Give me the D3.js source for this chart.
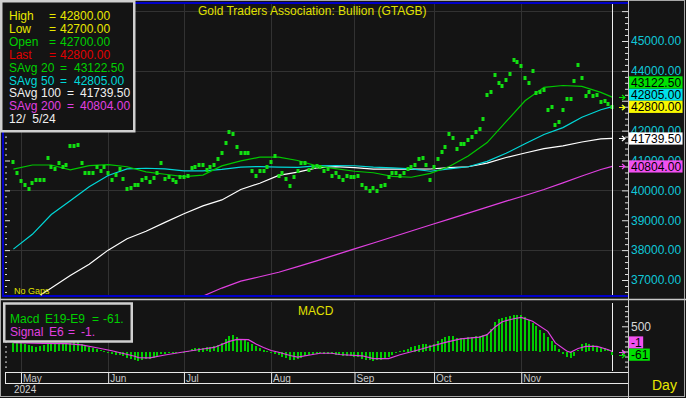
<!DOCTYPE html>
<html><head><meta charset="utf-8">
<script src="https://cdn.jsdelivr.net/npm/d3@7"></script>
<style>
html,body{margin:0;padding:0;background:#141414;overflow:hidden}
svg{display:block;font-family:"Liberation Sans",Arial,sans-serif}
</style>
</head><body>
<svg id="c" width="686" height="398"></svg>
<script>
// ---------------- DATA ----------------
// daily closes, trading days 29 Apr 2024 (index 0) .. 5 Dec 2024 (index 158)
const closes = [
40965,40595,40310,40185,40060,40260,40360,40360,40360,41100,
40775,40710,40910,40780,40840,41500,41480,41520,40910,40595,
40595,40595,40780,40650,40780,40595,40360,40510,40710,40395,
40060,40095,40175,40175,40360,40420,40285,40420,40580,40910,
40395,40460,40360,40295,40460,40460,40495,40765,40795,40865,
40865,40685,40795,40865,41065,41265,41600,41965,41900,41465,
41265,41265,41265,40655,40495,40655,40655,40785,40955,41165,
40495,40565,40395,40160,40460,40665,40910,40910,40685,40795,
40820,40780,40655,40710,40495,40565,40460,40360,40495,40460,
40460,40495,40195,40095,39985,40095,39995,40160,40195,40460,
40595,40565,40495,40565,40710,40795,40865,41065,41100,40865,
40360,40795,41065,41300,41465,41900,41765,41390,41565,41565,
41700,41800,41965,42065,42400,43205,43295,43875,43605,43505,
43705,43905,44375,44310,44175,43775,43605,44005,43270,43305,
43370,42705,42805,42200,42300,42705,43070,43070,43675,44205,
43775,43170,43305,43170,43205,42970,43005,42905,42800
];
// moving averages read at sampled trading-day indices
const smaDays = [0,5,10,15,20,25,30,35,40,45,50,55,60,65,70,75,80,85,90,95,100,105,110,115,120,125,130,135,140,145,150,155,158];
const sma20  = [40710,40850,40850,40690,40830,40860,40790,40620,40540,40462,40510,40820,40990,41110,41110,41000,40820,40730,40640,40590,40470,40440,40570,40800,41150,41600,42300,43000,43450,43510,43480,43280,43122.5];
const sma50  = [38034,38530,39190,39650,40120,40500,40720,40740,40720,40650,40650,40700,40780,40797,40780,40770,40820,40830,40825,40775,40750,40720,40640,40720,40790,40970,41240,41560,41870,42100,42450,42700,42805];
const sma100 = [35920,36330,36730,37150,37530,38000,38380,38630,38930,39220,39480,39680,40030,40240,40500,40610,40750,40797,40760,40710,40710,40710,40715,40764,40790,40910,41100,41250,41400,41490,41620,41725,41739.5];
const sma200Days = [45,50,55,60,65,70,75,80,85,90,95,100,105,110,115,120,125,130,135,140,145,150,155,158];
const sma200 = [36260,36460,36730,36960,37110,37260,37450,37640,37840,38040,38240,38440,38640,38840,39040,39240,39440,39640,39830,40030,40250,40480,40700,40804];
// MACD E19-E9 histogram (one per day) and signal E6 (sampled)
const macd = [
170,175,170,155,130,110,95,100,120,150,160,155,160,165,160,175,185,180,150,120,95,70,50,25,5,
-20,-40,-55,-60,-80,-110,-140,-160,-170,-160,-140,-130,-110,-70,-40,-30,-20,-15,-15,-10,
0,10,40,60,70,75,80,90,100,130,170,240,300,320,290,250,220,190,140,100,60,30,10,-10,
-30,-60,-90,-120,-150,-160,-140,-110,-80,-60,-40,-30,-25,-30,-35,-40,-50,-60,-70,-80,-85,-90,
-100,-130,-150,-165,-170,-165,-150,-130,-90,-50,-20,10,30,50,80,110,130,150,140,120,
150,200,250,290,310,300,270,260,270,280,290,300,310,330,340,450,590,640,670,680,
700,720,730,720,680,620,560,500,430,360,280,200,120,50,
-40,-90,-110,-70,20,140,170,140,120,110,90,60,20,-61
];
const signalDays = [0,8,14,18,22,26,29,32,33,36,40,44,47,50,53,57,59,62,64,66,68,70,73,75,79,81,84,86,92,95,99,102,107,110,114,118,123,125,127,129,132,134,137,141,143,146,147,149,151,154,157,158];
const signal =     [175,160,155,130,75,15,-40,-95,-120,-125,-70,-20,15,50,80,200,240,235,150,80,20,-15,-80,-110,-60,-35,-35,-60,-85,-140,-140,-65,35,100,180,250,285,335,480,590,650,677,600,400,170,10,-15,60,100,100,35,-1];
const monthIdx = [2,25,45,68,90,111,134];
const monthLabels = ["May","Jun","Jul","Aug","Sep","Oct","Nov"];
const yearLabel = "2024";
const priceLabels = [37000,38000,39000,40000,41000,42000,44000,45000];
const priceGrid = [38000,40000,42000,44000,46000];
const legendLabels = ["High","Low","Open","Last","SAvg 20","SAvg 50","SAvg 100","SAvg 200"];
const legendValues = [42800,42700,42700,42800,43122.5,42805,41739.5,40804];
const legendDate = "12/  5/24";
const title = "Gold Traders Association: Bullion (GTAGB)";
const macdValue = -61, signalValue = -1;

// ---------------- DRAW ----------------
const svg = d3.select("#c");
const W = 686, H = 398;
const C = {bg:"#141414", grid:"#323232", dot:"#12e012", g20:"#00c800", c50:"#00d8d8",
  w100:"#ffffff", m200:"#e040e0", yel:"#e8e800", red:"#e00000", frame:"#c8c8c8", blue:"#0000c8",
  axis:"#cfcfcf", tick:"#e0e0e0"};
const P = {l:3, r:628, t:4, b:295};
const M = {t:302, b:372};
const x = d3.scaleLinear().domain([0,158]).range([13.4,612.2]);
const y = d3.scaleLinear().domain([37000,45000]).range([280,41]);
const ym = d3.scaleLinear().domain([0,500]).range([351.5,326.3]);
const f2 = d3.format(".2f");

svg.append("rect").attr("width",W).attr("height",H).attr("fill",C.bg);

const defs = svg.append("defs");
defs.append("clipPath").attr("id","cp").append("rect")
  .attr("x",P.l).attr("y",P.t).attr("width",P.r-P.l).attr("height",P.b-P.t);
defs.append("clipPath").attr("id","cm").append("rect")
  .attr("x",P.l).attr("y",M.t).attr("width",P.r-P.l).attr("height",M.b-M.t);

// grid
const grid = svg.append("g").attr("stroke",C.grid).attr("stroke-width",1);
monthIdx.forEach(i=>{
  const gx = Math.round(x(i))+0.5;
  grid.append("line").attr("x1",gx).attr("x2",gx).attr("y1",P.t).attr("y2",P.b);
  grid.append("line").attr("x1",gx).attr("x2",gx).attr("y1",M.t).attr("y2",M.b);
});
priceGrid.forEach(v=>{
  const gy = Math.round(y(v))+0.5;
  grid.append("line").attr("x1",P.l).attr("x2",P.r).attr("y1",gy).attr("y2",gy);
});

// main panel series
const gm = svg.append("g").attr("clip-path","url(#cp)");
const line = d3.line().x(d=>x(d[0])).y(d=>y(d[1]));
function drawLine(days, vals, col){
  gm.append("path").datum(days.map((d,i)=>[d,vals[i]]))
    .attr("d",line).attr("fill","none").attr("stroke",col).attr("stroke-width",1.2);
}
drawLine(smaDays, sma100, C.w100);
drawLine(sma200Days, sma200, C.m200);
drawLine(smaDays, sma50, C.c50);
drawLine(smaDays, sma20, C.g20);
gm.append("g").selectAll("rect").data(closes).join("rect")
  .attr("x",(d,i)=>Math.round(x(i))-1.5).attr("y",d=>Math.round(y(d))-2)
  .attr("width",3).attr("height",4).attr("fill",C.dot);

// current day line
const cx = Math.round(x(158))+0.5;
svg.append("line").attr("x1",cx).attr("x2",cx).attr("y1",P.t).attr("y2",P.b).attr("stroke","#f0f0f0");
svg.append("line").attr("x1",cx).attr("x2",cx).attr("y1",M.t+1).attr("y2",M.b-1).attr("stroke","#f0f0f0");

// MACD panel
const gmc = svg.append("g").attr("clip-path","url(#cm)");
gmc.append("g").attr("shape-rendering","crispEdges").selectAll("rect").data(macd).join("rect")
  .attr("x",(d,i)=>Math.round(x(i))-1)
  .attr("y",d=>Math.round(Math.min(ym(0),ym(d))))
  .attr("width",2)
  .attr("height",d=>Math.max(1,Math.round(Math.abs(ym(d)-ym(0)))))
  .attr("fill","#00cc00");
gmc.append("path").datum(signalDays.map((d,i)=>[d,signal[i]]))
  .attr("d",d3.line().x(d=>x(d[0])).y(d=>ym(d[1])))
  .attr("fill","none").attr("stroke",C.m200).attr("stroke-width",1.2);

// blue border of main panel
svg.append("path").attr("d",`M${P.r},3 H3 V296 H${P.r}`).attr("fill","none")
  .attr("stroke",C.blue).attr("stroke-width",2);

// frame lines
svg.append("rect").attr("x",0.5).attr("y",0.5).attr("width",W-2).attr("height",H-2)
  .attr("fill","none").attr("stroke","#a8a8a8");
svg.append("line").attr("x1",0).attr("x2",W).attr("y1",299.5).attr("y2",299.5).attr("stroke",C.frame).attr("stroke-width",1.5);
svg.append("line").attr("x1",628.5).attr("x2",628.5).attr("y1",0).attr("y2",H).attr("stroke",C.frame);

// ticks
function ticks(scale, x0, vals, size, dir){
  const ax = (dir>0? d3.axisRight(scale) : d3.axisLeft(scale)).tickValues(vals).tickSize(size).tickFormat("");
  const g = svg.append("g").attr("transform",`translate(${x0},0)`).call(ax);
  g.select(".domain").remove();
  g.selectAll("line").attr("stroke",C.tick);
}
const minorP = d3.range(36600,46200,200).filter(v=>v%1000!==0);
const majorP = d3.range(37000,47000,1000);
ticks(y, 5, minorP, 2, 1); ticks(y, 5, majorP, 5, 1);
ticks(y, 628, minorP, 3, -1); ticks(y, 628, majorP, 6, -1);
const minorM = d3.range(-300,1000,100).filter(v=>v%500!==0);
ticks(ym, 5, minorM.concat([0,500]), 2, 1);
ticks(ym, 628, minorM, 3, -1); ticks(ym, 628, [0,500], 6, -1);

// right price labels
const ra = svg.append("g").attr("transform","translate(628,0)")
  .call(d3.axisRight(y).tickValues(priceLabels).tickSize(0).tickPadding(3).tickFormat(f2));
ra.select(".domain").remove();
ra.selectAll("text").attr("fill","#10c8d8").attr("font-size",12).attr("font-family","Liberation Sans, Arial, sans-serif");

// value tags with stacking
function tags(list, scale){
  const s = list.slice().sort((a,b)=>a.v-b.v);
  let prevTop = Infinity;
  s.forEach(t=>{
    let top = scale(t.v)-6;
    if (top+12.2 > prevTop) top = prevTop-12.2;
    prevTop = top; t.top = top;
  });
  list.forEach(t=>{
    const g = svg.append("g");
    const tx = g.append("text").attr("x",631).attr("y",t.top+10.5).attr("font-size",12)
      .attr("fill","#000").text(t.txt);
    const w = tx.node().getComputedTextLength();
    g.insert("rect","text").attr("x",629).attr("y",t.top).attr("width",w+3.5).attr("height",12.2).attr("fill",t.c);
    const ay = Math.round(scale(t.v))+0.5;
    svg.append("path").attr("d",`M619,${ay} H625 M622,${ay-2.5} L625,${ay} L622,${ay+2.5}`)
      .attr("fill","none").attr("stroke",t.c).attr("stroke-width",1.2);
  });
}
tags([
  {v:legendValues[7], c:"#f050f0", txt:f2(legendValues[7])},
  {v:legendValues[6], c:"#ffffff", txt:f2(legendValues[6])},
  {v:legendValues[5], c:"#00e0e8", txt:f2(legendValues[5])},
  {v:legendValues[4], c:"#00e000", txt:f2(legendValues[4])},
  {v:legendValues[3], c:"#f8f800", txt:f2(legendValues[3])}
], y);

// MACD right labels
svg.append("text").attr("x",631).attr("y",ym(500)+4.5).attr("font-size",12).attr("fill","#d8d8d8").text("500");
tags([
  {v:signalValue, c:"#f050f0", txt:String(signalValue)},
  {v:macdValue, c:"#00e000", txt:String(macdValue)}
], ym);

// legend box
svg.append("rect").attr("x",1.25).attr("y",1.25).attr("width",133).attr("height",130)
  .attr("fill",C.bg).attr("stroke","#d0d0d0").attr("stroke-width",2.5);
const legColors = [C.yel,C.yel,"#00d000",C.red,"#00d000",C.c50,"#f0f0f0","#e040e0"];
const leg = svg.append("g").attr("font-size",12);
legendLabels.forEach((lab,i)=>{
  const by = 20 + i*12.9;
  const col = legColors[i];
  const parts = lab.split(" ");
  let eqX = 49, valX = 60;
  leg.append("text").attr("x",9).attr("y",by).attr("fill",col).text(parts[0]);
  if (parts.length>1){
    leg.append("text").attr("x",41).attr("y",by).attr("fill",col).text(parts[1]);
    eqX = parts[1].length>2 ? 67 : 60;
    valX = parts[1].length>2 ? 80 : 74;
  }
  leg.append("text").attr("x",eqX).attr("y",by).attr("fill",col).text("=");
  leg.append("text").attr("x",valX).attr("y",by).attr("fill",col).text(f2(legendValues[i]));
});
leg.append("text").attr("x",9).attr("y",20+8*12.9).attr("fill","#f0f0f0")
  .attr("xml:space","preserve").style("white-space","pre").text(legendDate);

// title
svg.append("text").attr("x",198).attr("y",15).attr("font-size",12).attr("fill","#e0e000").text(title);
svg.append("text").attr("x",14).attr("y",294).attr("font-size",9).attr("fill","#e0e000").text("No Gaps");

// MACD legend
svg.append("rect").attr("x",4.25).attr("y",303.5).attr("width",127.5).attr("height",38)
  .attr("fill",C.bg).attr("stroke","#d0d0d0").attr("stroke-width",2.5);
const ml = svg.append("g").attr("font-size",12);
[["Macd",10],["E19-E9",45],["=",92],[String(macdValue)+".",103]].forEach(p=>
  ml.append("text").attr("x",p[1]).attr("y",323).attr("fill","#00d000").text(p[0]));
[["Signal",10],["E6",49],["=",68],[String(signalValue)+".",81]].forEach(p=>
  ml.append("text").attr("x",p[1]).attr("y",335.5).attr("fill","#e040e0").text(p[0]));
svg.append("text").attr("x",298).attr("y",315).attr("font-size",12).attr("fill","#e0e000").text("MACD");

// time axis
const xa = d3.axisBottom(x).tickValues(monthIdx).tickSize(11).tickFormat((d,i)=>monthLabels[i]);
const gx = svg.append("g").attr("transform",`translate(0,${M.b})`).call(xa);
gx.select(".domain").remove();
gx.selectAll(".tick line").attr("stroke","#e8e8e8");
gx.selectAll(".tick text").attr("y",9.5).attr("dy",0).attr("x",1.5).attr("text-anchor","start")
  .attr("fill","#c8c8c8").attr("font-size",10).attr("font-family","Liberation Sans Narrow, Arial Narrow, sans-serif");
svg.append("rect").attr("x",5).attr("y",383).attr("width",623).attr("height",3).attr("fill",C.bg);
svg.append("line").attr("x1",5).attr("x2",628).attr("y1",372.5).attr("y2",372.5).attr("stroke","#e8e8e8");
svg.append("line").attr("x1",5).attr("x2",628).attr("y1",383.5).attr("y2",383.5).attr("stroke","#e8e8e8");
svg.append("line").attr("x1",5.5).attr("x2",5.5).attr("y1",372).attr("y2",384).attr("stroke","#e8e8e8");
svg.append("text").attr("x",14).attr("y",393).attr("font-size",10).attr("fill","#d0d0d0")
  .attr("font-family","Liberation Sans Narrow, Arial Narrow, sans-serif").text(yearLabel);
svg.append("text").attr("x",652).attr("y",390).attr("font-size",14).attr("fill","#e8e800")
  .attr("font-family","Liberation Sans Narrow, Arial Narrow, sans-serif").text("Day");
</script>
</body></html>
